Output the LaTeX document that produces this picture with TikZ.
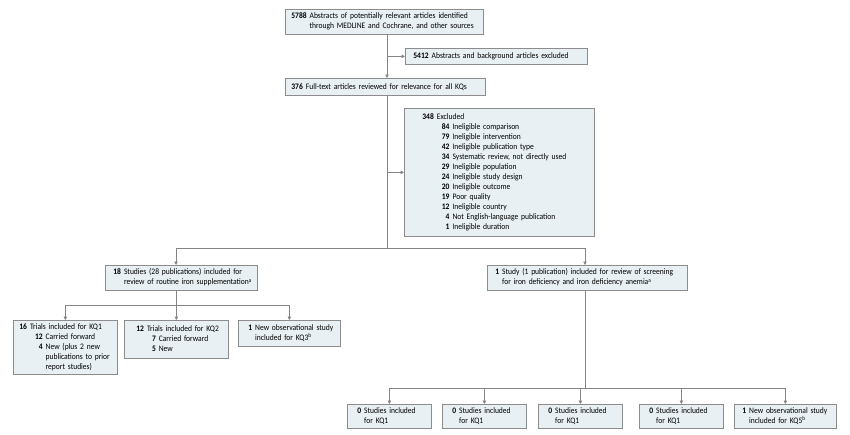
\documentclass[tikz,border=0pt]{standalone}
\usepackage{fontspec}
\setmainfont{Carlito}[FakeStretch=0.9]
\usetikzlibrary{arrows.meta,shadows}
\definecolor{boxfill}{HTML}{E8F0F4}
\definecolor{boxline}{HTML}{8C8C8C}
\definecolor{connline}{HTML}{858585}
\definecolor{shade}{HTML}{9A9A9A}
\newcommand\fs{\fontsize{8.4}{10}\selectfont}
\renewcommand\arraystretch{1}
\tikzset{
  box/.style={draw=boxline, fill=boxfill, line width=0.7pt, anchor=north west,
    inner xsep=6pt, inner ysep=2pt, align=left, font=\fs,
    drop shadow={shadow xshift=0.8pt, shadow yshift=-0.8pt, opacity=1, fill=shade}},
  conn/.style={draw=connline, line width=0.7pt},
  arr/.style={conn, -{Triangle[length=3.5pt,width=3.5pt]}}
}
\begin{document}
\begin{tikzpicture}[x=1pt,y=-1pt]
\fill[white] (0,0) rectangle (850,434);
\useasboundingbox (0,0) rectangle (850,434);

% top chain
\node[box, text width=186pt, minimum height=25pt] (b1) at (285,9)
 {\begin{tabular}{@{}r@{\hspace{3pt}}l@{}}\textbf{5788} & Abstracts of potentially relevant articles identified\\ & through MEDLINE and Cochrane, and other sources\end{tabular}};
\node[box, text width=166pt, minimum height=16pt, inner xsep=8pt] (b2) at (405,48)
 {\textbf{5412}\hspace{3pt}Abstracts and background articles excluded};
\node[box, text width=188pt, minimum height=17pt] (b3) at (285,78)
 {\textbf{376}\hspace{3pt}Full-text articles reviewed for relevance for all KQs};
\node[box, text width=178pt, minimum height=128pt] (excl) at (404,108)
 {\hspace*{12pt}\begin{tabular}{@{}r@{\hspace{3pt}}r@{\hspace{3pt}}l@{}}
  \textbf{348} & \multicolumn{2}{@{}l@{}}{Excluded}\\
  & \hspace{5pt}\textbf{84} & Ineligible comparison\\
  & \textbf{79} & Ineligible intervention\\
  & \textbf{42} & Ineligible publication type\\
  & \textbf{34} & Systematic review, not directly used\\
  & \textbf{29} & Ineligible population\\
  & \textbf{24} & Ineligible study design\\
  & \textbf{20} & Ineligible outcome\\
  & \textbf{19} & Poor quality\\
  & \textbf{12} & Ineligible country\\
  & \textbf{4} & Not English-language publication\\
  & \textbf{1} & Ineligible duration
 \end{tabular}};

% second level
\node[box, text width=140pt, minimum height=25pt] (b18) at (105,265)
 {\hspace*{2pt}\begin{tabular}{@{}r@{\hspace{3pt}}l@{}}\textbf{18} & Studies (28 publications) included for\\ & review of routine iron supplementation\textsuperscript{a}\end{tabular}};
\node[box, text width=188pt, minimum height=25pt] (bst) at (487,265)
 {\hspace*{2pt}\begin{tabular}{@{}r@{\hspace{3pt}}l@{}}\textbf{1} & Study (1 publication) included for review of screening\\ & for iron deficiency and iron deficiency anemia\textsuperscript{a}\end{tabular}};

% left third level
\node[box, text width=92pt, minimum height=54pt] (kq1) at (13,320)
 {\begin{tabular}{@{}r@{\hspace{3pt}}r@{\hspace{3pt}}l@{}}
  \textbf{16} & \multicolumn{2}{@{}l@{}}{Trials included for KQ1}\\
  & \hspace{5pt}\textbf{12} & Carried forward\\
  & \textbf{4} & New (plus 2 new\\
  & & publications to prior\\
  & & report studies)
 \end{tabular}};
\node[box, text width=92pt, minimum height=38pt] (kq2) at (124,320)
 {\hspace*{6pt}\begin{tabular}{@{}r@{\hspace{3pt}}r@{\hspace{3pt}}l@{}}
  \textbf{12} & \multicolumn{2}{@{}l@{}}{Trials included for KQ2}\\
  & \hspace{5pt}\textbf{7} & Carried forward\\
  & \textbf{5} & New
 \end{tabular}};
\node[box, text width=90pt, minimum height=26pt] (kq3) at (238,320)
 {\hspace*{4pt}\begin{tabular}{@{}r@{\hspace{3pt}}l@{}}\textbf{1} & New observational study\\ & included for KQ3\textsuperscript{b}\end{tabular}};

% bottom level
\node[box, text width=72pt, minimum height=24pt] (bb1) at (347,404)
 {\hspace*{4pt}\begin{tabular}{@{}r@{\hspace{3pt}}l@{}}\textbf{0} & Studies included\\ & for KQ1\end{tabular}};
\node[box, text width=72pt, minimum height=24pt] (bb2) at (442,404)
 {\hspace*{4pt}\begin{tabular}{@{}r@{\hspace{3pt}}l@{}}\textbf{0} & Studies included\\ & for KQ1\end{tabular}};
\node[box, text width=72pt, minimum height=24pt] (bb3) at (538,404)
 {\hspace*{4pt}\begin{tabular}{@{}r@{\hspace{3pt}}l@{}}\textbf{0} & Studies included\\ & for KQ1\end{tabular}};
\node[box, text width=72pt, minimum height=24pt] (bb4) at (639,404)
 {\hspace*{4pt}\begin{tabular}{@{}r@{\hspace{3pt}}l@{}}\textbf{0} & Studies included\\ & for KQ1\end{tabular}};
\node[box, text width=90pt, minimum height=24pt] (bb5) at (734,404)
 {\hspace*{2pt}\begin{tabular}{@{}r@{\hspace{3pt}}l@{}}\textbf{1} & New observational study\\ & included for KQ5\textsuperscript{b}\end{tabular}};

% connectors
\coordinate (sp) at (387,0);
\coordinate (L) at (176,248);
\coordinate (R) at (585,248);
\coordinate (L2) at (176,305);
\coordinate (R2) at (585,388);

\draw[arr] (b1.south -| sp) -- (b3.north -| sp);
\draw[arr] (b2.west -| sp) -- (b2.west);
\draw[conn] (b3.south -| sp) -- (L -| sp);
\draw[arr] (excl.west -| sp) -- (excl.west);
\draw[conn] (L) -- (R);
\draw[arr] (L) -- (b18.north -| L);
\draw[arr] (R) -- (bst.north -| R);

\draw[conn] (b18.south -| L2) -- (L2);
\draw[conn] (kq1.north |- L2) -- (kq3.north |- L2);
\draw[arr] (kq1.north |- L2) -- (kq1.north);
\draw[arr] (kq2.north |- L2) -- (kq2.north);
\draw[arr] (kq3.north |- L2) -- (kq3.north);

\draw[conn] (bst.south -| R2) -- (R2);
\draw[conn] (bb1.north |- R2) -- (bb5.north |- R2);
\draw[arr] (bb1.north |- R2) -- (bb1.north);
\draw[arr] (bb2.north |- R2) -- (bb2.north);
\draw[arr] (bb3.north |- R2) -- (bb3.north);
\draw[arr] (bb4.north |- R2) -- (bb4.north);
\draw[arr] (bb5.north |- R2) -- (bb5.north);
\end{tikzpicture}
\end{document}
